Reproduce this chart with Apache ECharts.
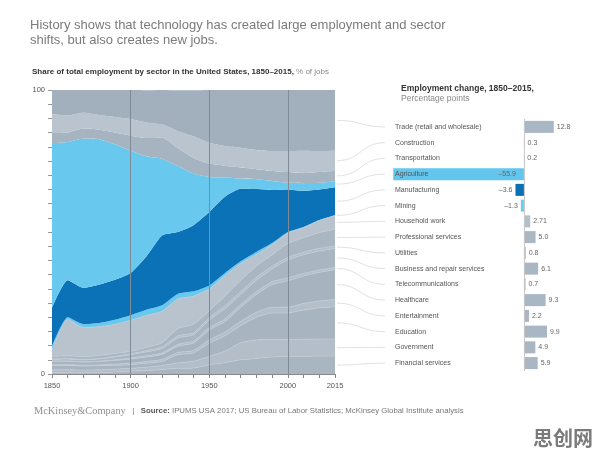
<!DOCTYPE html>
<html>
<head>
<meta charset="utf-8">
<script src="https://cdn.jsdelivr.net/npm/echarts@6/dist/echarts.min.js"></script>
<style>
    html, body { margin: 0; background: #fff; }
    #main { width: 596px; height: 458px; }
</style>
</head>
<body>
<div id="main"></div>
<script>
const years = ['1850', '1860', '1870', '1880', '1890', '1900', '1910', '1920', '1930', '1940',
    '1950', '1960', '1970', '1980', '1990', '2000', '2005', '2010', '2015'];
const yearLabels = ['1850', '1900', '1950', '2000', '2015'];
const yearLines = ['1900', '1950', '2000'];

// share of jobs, % (top of the stack first)
const trade = [8.6, 8.9, 8.0, 8.9, 9.5, 10.3, 11.3, 12.1, 14.4, 16.2, 18.6, 19.7, 20.3, 21.1, 21.5, 21.5, 21.5, 21.5, 21.4];
const construction = [6.7, 6.1, 5.6, 5.2, 5.5, 5.9, 5.5, 4.7, 5.9, 7.6, 7.3, 7.0, 7.0, 6.8, 7.0, 7.4, 7.9, 7.4, 7.0];
const transportation = [3.5, 3.3, 3.5, 3.3, 4.1, 5.3, 6.4, 7.4, 6.4, 5.5, 4.7, 4.1, 3.9, 3.5, 3.5, 3.8, 3.5, 3.8, 3.7];
const agriculture = [58.0, 48.7, 52.6, 51.2, 47.7, 43.0, 35.3, 27.0, 23.2, 18.2, 12.4, 6.8, 3.6, 3.5, 3.2, 2.3, 2.7, 2.3, 2.1];
const manufacturing = [13.5, 13.0, 12.7, 13.5, 14.1, 14.9, 18.8, 24.6, 21.8, 23.3, 25.8, 26.8, 25.5, 22.1, 18.7, 15.0, 12.7, 10.8, 9.9];
const mining = [1.4, 0.8, 1.2, 1.4, 1.6, 1.8, 2.0, 2.1, 1.8, 1.7, 1.3, 1.0, 0.8, 0.9, 0.6, 0.4, 0.3, 0.2, 0.1];
const household = [2.2, 12.8, 10.3, 10.1, 10.3, 10.9, 11.2, 11.1, 10.4, 9.9, 7.6, 7.1, 5.9, 4.1, 3.5, 3.6, 3.5, 4.2, 4.8];
const professional = [0.9, 1.0, 1.0, 1.1, 1.0, 0.9, 1.2, 1.5, 2.6, 3.0, 2.5, 3.5, 4.0, 4.0, 4.1, 5.0, 5.1, 5.6, 5.9];
const utilities = [0.1, 0.1, 0.1, 0.1, 0.2, 0.3, 0.4, 0.5, 0.7, 0.7, 0.8, 1.0, 1.0, 1.0, 0.9, 0.8, 0.9, 0.9, 0.9];
const business = [0.6, 0.7, 0.7, 0.8, 1.0, 1.2, 1.4, 1.6, 2.3, 2.2, 2.7, 3.6, 3.5, 4.0, 4.5, 6.4, 6.6, 6.7, 6.7];
const telecom = [0.1, 0.1, 0.1, 0.1, 0.2, 0.3, 0.4, 0.5, 0.6, 0.7, 0.8, 0.9, 1.0, 1.0, 1.0, 1.0, 0.9, 0.8, 0.8];
const healthcare = [1.2, 1.2, 1.1, 1.2, 1.3, 1.5, 1.6, 1.8, 2.2, 2.6, 3.5, 3.8, 5.0, 6.3, 8.0, 9.3, 9.7, 10.1, 10.5];
const entertainment = [0.3, 0.3, 0.3, 0.3, 0.4, 0.5, 0.6, 0.7, 0.8, 0.9, 1.1, 1.2, 1.5, 1.7, 2.0, 2.0, 2.3, 2.4, 2.5];
const education = [1.5, 1.5, 1.4, 1.4, 1.4, 1.3, 1.4, 1.4, 2.9, 2.9, 4.7, 5.5, 6.0, 8.0, 9.3, 9.4, 10.3, 11.0, 11.4];
const government = [1.1, 1.1, 1.0, 1.0, 1.0, 1.0, 1.2, 1.4, 1.9, 2.4, 2.9, 4.0, 6.0, 6.5, 6.2, 5.9, 6.0, 6.0, 6.0];
const financial = [0.4, 0.4, 0.4, 0.5, 0.7, 1.0, 1.2, 1.6, 2.0, 2.1, 3.3, 4.0, 5.0, 5.5, 6.0, 6.2, 6.2, 6.3, 6.3];

const sectors = ['Trade (retail and wholesale)', 'Construction', 'Transportation', 'Agriculture',
    'Manufacturing', 'Mining', 'Household work', 'Professional services', 'Utilities',
    'Business and repair services', 'Telecommunications', 'Healthcare', 'Entertainment',
    'Education', 'Government', 'Financial services'];
// employment change 1850-2015, percentage points
const changes = [12.8, 0.3, 0.2, -55.9, -3.6, -1.3, 2.71, 5.0, 0.8, 6.1, 0.7, 9.3, 2.2, 9.9, 4.9, 5.9];

const shares = [trade, construction, transportation, agriculture, manufacturing, mining, household,
    professional, utilities, business, telecom, healthcare, entertainment, education, government, financial];
const areaColors = ['#a2afbc', '#b9c4ce', '#a6b3c0', '#68c8ee', '#0b72b7', '#68c8ee', '#b8c3cd',
    '#aab6c2', '#b4bfc9', '#a9b5c1', '#b4bfc9', '#a7b4c0', '#b4bfc9', '#a8b4c0', '#b3bec8', '#a9b5c1'];
const barColors = ['#a9b6c3', '#a9b6c3', '#a9b6c3', '#62c6ee', '#0a6fb3', '#6dcaef', '#b3bfca',
    '#a9b6c3', '#a9b6c3', '#a9b6c3', '#a9b6c3', '#a9b6c3', '#a9b6c3', '#a9b6c3', '#a9b6c3', '#a9b6c3'];

const font = 'Liberation Sans, Arial, sans-serif';
const chart = echarts.init(document.getElementById('main'));

function fmt(v) {
    let a = Math.abs(v);
    let s = Number.isInteger(Math.round(a * 100) / 10) ? a.toFixed(1) : String(a);
    return (v < 0 ? '\u2013' : '') + s;
}

// bottom of the stack goes first
let areaSeries = [];
for (let i = sectors.length - 1; i >= 0; i--) {
    let lower = i > 5;
    let s = {
        name: sectors[i],
        type: 'line',
        stack: 'jobs',
        xAxisIndex: 0,
        yAxisIndex: 0,
        data: shares[i],
        symbol: 'none',
        smooth: 0.2,
        lineStyle: {width: lower ? 0.8 : 0, color: '#c2ccd5'},
        areaStyle: {color: areaColors[i], opacity: 1},
        silent: true
    };
    if (i === 0) {
        s.markLine = {
            silent: true,
            symbol: 'none',
            label: {show: false},
            lineStyle: {color: '#7f8b97', width: 1, type: 'solid'},
            data: yearLines.map(y => ({xAxis: y}))
        };
    }
    areaSeries.push(s);
}

let barData = changes.map((v, i) => {
    let pos = v < 0 ? 'left' : 'right';
    if (i === 3) pos = 'insideRight';
    return {
        value: v,
        itemStyle: {color: barColors[i]},
        label: {position: pos, distance: i === 3 ? 8 : 3}
    };
});

let option = {
    animation: false,
    textStyle: {fontFamily: font},
    title: [
        {
            text: 'History shows that technology has created large employment and sector\nshifts, but also creates new jobs.',
            left: 25, top: 13,
            textStyle: {fontSize: 13, fontWeight: 'normal', color: '#7b7b7b', lineHeight: 15, fontFamily: font}
        },
        {
            text: '{b|Share of total employment by sector in the United States, 1850\u20132015,}{g| % of jobs}',
            left: 27, top: 63,
            textStyle: {
                fontWeight: 'normal',
                rich: {
                    b: {fontSize: 8, fontWeight: 'bold', color: '#333', fontFamily: font},
                    g: {fontSize: 8, fontWeight: 'normal', color: '#888', fontFamily: font}
                }
            }
        },
        {
            text: '{b|Employment change, 1850\u20132015,}\n{g|Percentage points}',
            left: 396, top: 78,
            textStyle: {
                fontWeight: 'normal',
                rich: {
                    b: {fontSize: 8.5, fontWeight: 'bold', color: '#333', lineHeight: 10.5, fontFamily: font},
                    g: {fontSize: 8.5, fontWeight: 'normal', color: '#888', lineHeight: 10.5, fontFamily: font}
                }
            }
        },
        {
            text: '{m|McKinsey&Company}{s|   |   }{b|Source:}{s| IPUMS USA 2017; US Bureau of Labor Statistics; McKinsey Global Institute analysis}',
            left: 29, top: 401,
            textStyle: {
                fontWeight: 'normal',
                fontSize: 7,
                rich: {
                    m: {fontSize: 10.4, fontWeight: 'normal', color: '#8f8f8f', fontFamily: 'Liberation Serif, serif'},
                    b: {fontSize: 7.8, fontWeight: 'bold', color: '#555', fontFamily: font},
                    s: {fontSize: 7.8, fontWeight: 'normal', color: '#777', fontFamily: font}
                }
            }
        },
        {
            text: '思创网',
            left: 528, top: 423,
            textStyle: {fontSize: 20, fontWeight: 'bold', color: '#7a7a7a', fontFamily: 'Noto Sans CJK SC'}
        }
    ],
    grid: [
        {left: 52, top: 90, width: 283, height: 284},
        {left: 393, top: 119, width: 201, height: 252}
    ],
    xAxis: [
        {
            type: 'category',
            gridIndex: 0,
            data: years,
            boundaryGap: false,
            axisLine: {lineStyle: {color: '#888', width: 1}},
            axisTick: {show: true, interval: 0, length: 4, lineStyle: {color: '#888'}},
            axisLabel: {
                interval: 0,
                fontSize: 7.5,
                color: '#555',
                margin: 8,
                formatter: v => yearLabels.includes(v) ? v : ''
            },
            splitLine: {show: false}
        },
        {
            type: 'value',
            gridIndex: 1,
            min: -56,
            max: 30,
            show: false
        }
    ],
    yAxis: [
        {
            type: 'value',
            gridIndex: 0,
            min: 0,
            max: 100,
            interval: 5,
            axisLine: {show: false},
            axisTick: {show: true, length: 4, lineStyle: {color: '#999'}},
            axisLabel: {
                fontSize: 7.5,
                color: '#555',
                margin: 7,
                formatter: v => (v === 0 || v === 100) ? String(v) : ''
            },
            splitLine: {show: false}
        },
        {
            type: 'category',
            gridIndex: 1,
            data: sectors,
            inverse: true,
            z: 10,
            axisLine: {show: false},
            axisTick: {show: false},
            axisLabel: {inside: true, margin: 2, fontSize: 7, color: '#555'},
            splitLine: {show: false}
        }
    ],
    series: areaSeries.concat([
        {
            type: 'bar',
            xAxisIndex: 1,
            yAxisIndex: 1,
            data: barData,
            barWidth: 12,
            silent: true,
            label: {
                show: true,
                fontSize: 7,
                color: '#666',
                formatter: p => fmt(p.value)
            },
            markLine: {
                silent: true,
                symbol: 'none',
                label: {show: false},
                lineStyle: {color: '#c8c8c8', width: 1, type: 'solid'},
                data: [{xAxis: 0}]
            }
        }
    ])
};

chart.setOption(option);

// connectors from each band's end (2015) to its label on the right
let last = years.length - 1;
let curves = [];
let base = 0;
for (let i = sectors.length - 1; i >= 0; i--) {
    let v = shares[i][last];
    let mid = base + v / 2;
    base += v;
    let p0 = chart.convertToPixel({gridIndex: 0}, [last, mid]);
    let yRow = chart.convertToPixel({yAxisIndex: 1}, sectors[i]);
    let x1 = p0[0] + 2, x2 = 385;
    curves.push({
        type: 'bezierCurve',
        silent: true,
        shape: {
            x1: x1, y1: p0[1], x2: x2, y2: yRow,
            cpx1: (x1 + x2) / 2, cpy1: p0[1], cpx2: (x1 + x2) / 2, cpy2: yRow
        },
        style: {stroke: '#d6dade', lineWidth: 0.8, fill: null}
    });
}
chart.setOption({graphic: curves});
</script>
</body>
</html>
